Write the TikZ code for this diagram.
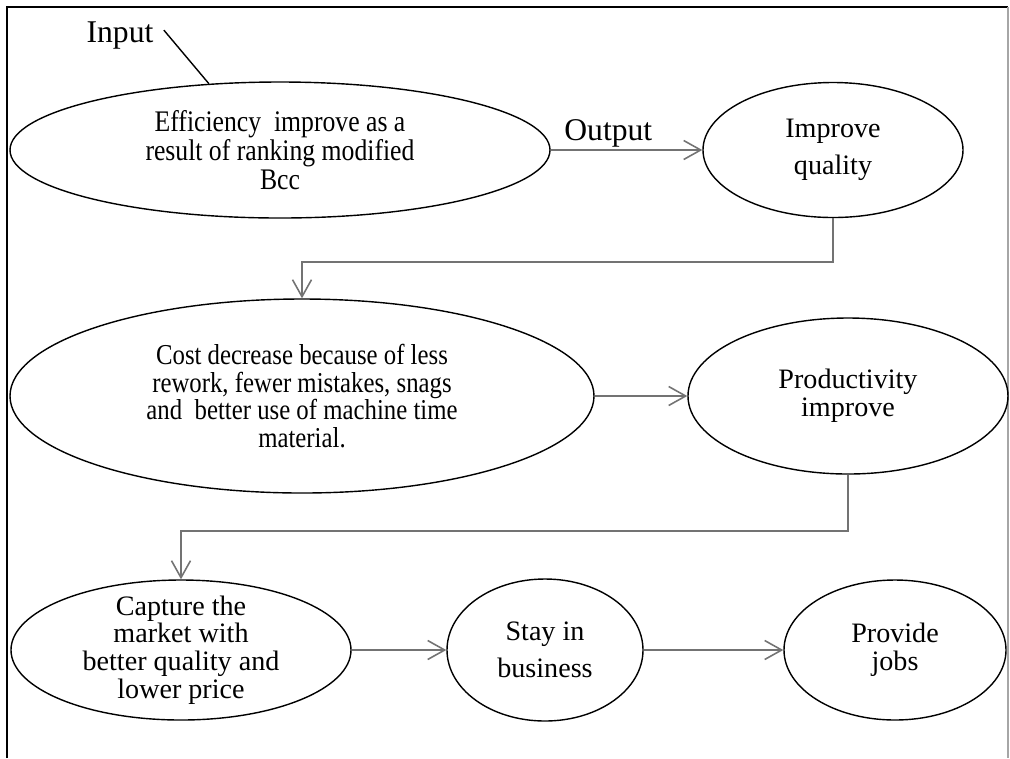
\documentclass[tikz,border=0pt]{standalone}
\usepackage{fontspec}
\setmainfont{Liberation Serif}
\newfontfamily\narrowfont[FakeStretch=0.86]{Liberation Serif}
\usetikzlibrary{shapes.geometric, arrows.meta, positioning}
\tikzset{
  stepell/.style={
    ellipse, draw, line width=0.8pt, inner sep=0pt, align=center,
    font=\fontsize{16}{15.8}\selectfont
  },
  narrowtext/.style 2 args={font=\narrowfont\fontsize{#1}{#2}\selectfont},
  flowarrow/.style={
    -{Straight Barb[length=3.4mm,width=3.8mm]}, line width=0.9pt,
    color=black!55
  },
  flowlabel/.style={
    font=\fontsize{18}{20}\selectfont, inner sep=1pt, text=black
  },
  frameline/.style={line width=1pt},
}

\begin{document}
\begin{tikzpicture}[x=0.2mm, y=-0.2mm]
  \useasboundingbox (0,0) rectangle (1010,758);

  % ── Frame ──────────────────────────────────────────────────────
  \draw[frameline] (7,758) -- (7,7) -- (1008,7);
  \draw[black!35, line width=0.6pt] (1008,7) -- (1008,758);

  % ── Row 1: efficiency -> quality ───────────────────────────────
  \node[stepell, narrowtext={17}{16.5}, minimum width=10.8cm,
        minimum height=2.72cm]
    (eff) at (280,150)
    {Efficiency~ improve as a\\ result of ranking modified\\ Bcc};
  \node[stepell, minimum width=5.2cm, minimum height=2.7cm]
    (qual) at (833,150) {Improve\\[5pt] quality};
  \node[flowlabel] (inlbl) at (120,36) {Input};
  \draw[line width=0.8pt, shorten <=2.6mm] (inlbl.north east) -- (eff.137.5);
  \draw[flowarrow] (eff) -- (qual)
    node[flowlabel, pos=0.38, above] (outlbl) {Output};

  % ── Row 2: cost -> productivity ────────────────────────────────
  \node[stepell, narrowtext={16.4}{15.8}, minimum width=11.68cm,
        minimum height=3.88cm]
    (cost) at (302,396)
    {Cost decrease because of less\\ rework, fewer mistakes, snags\\
     and~ better use of machine time\\ material.};
  \node[stepell, minimum width=6.4cm, minimum height=3.12cm]
    (prod) at (848,396) {Productivity\\ improve};
  \draw[flowarrow] (qual.south) -- ++(0,44) -| (cost.north);
  \draw[flowarrow] (cost) -- (prod);

  % ── Row 3: market -> business -> jobs ──────────────────────────
  \node[stepell, minimum width=6.8cm, minimum height=2.8cm, inner ysep=-5pt]
    (capt) at (181,650)
    {Capture the\\ market with\\ better quality and\\ lower price};
  \node[stepell, minimum width=3.92cm, minimum height=2.84cm]
    (stay) at (545,650) {Stay in\\[5pt] business};
  \node[stepell, minimum width=4.44cm, minimum height=2.8cm]
    (prov) at (895,650) {Provide\\ jobs};
  \draw[flowarrow] (prod.south) -- ++(0,56) -| (capt.north);
  \draw[flowarrow] (capt) -- (stay);
  \draw[flowarrow] (stay) -- (prov);
\end{tikzpicture}
\end{document}
